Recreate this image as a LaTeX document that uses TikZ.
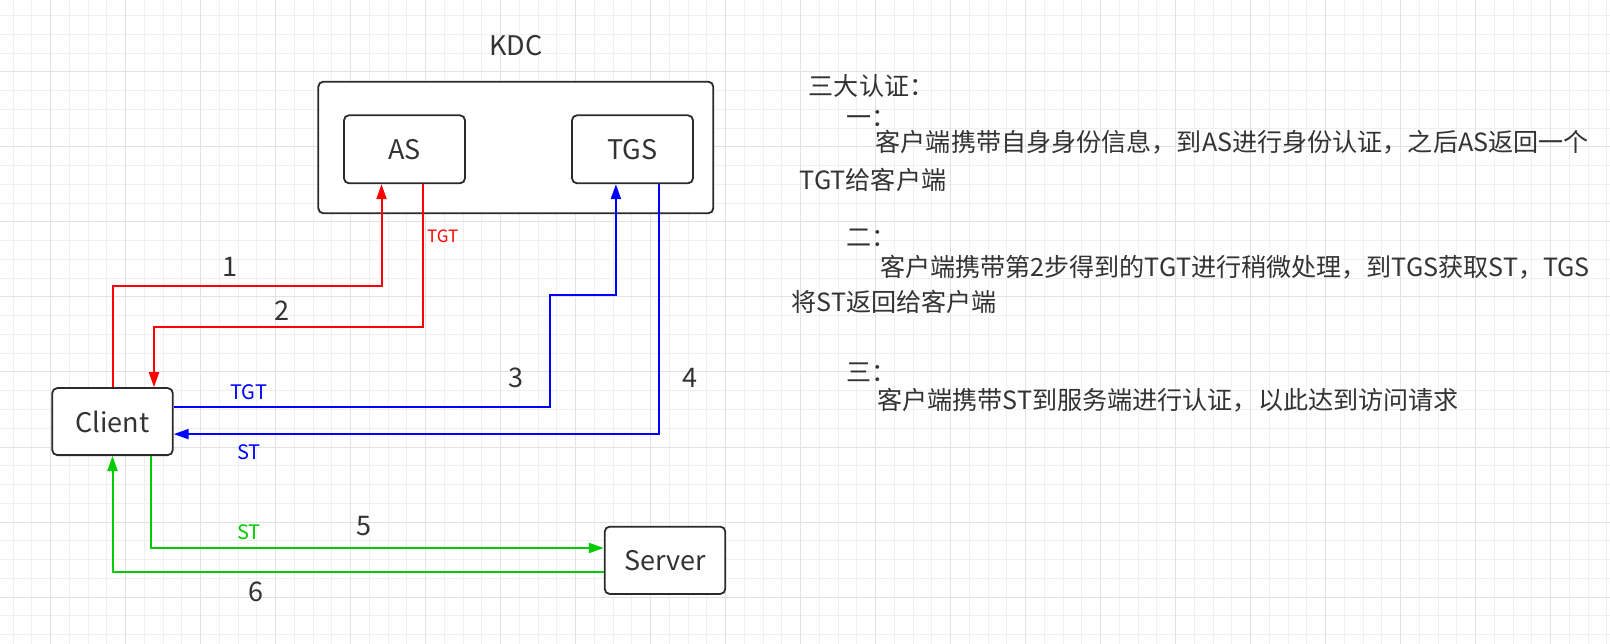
\documentclass[tikz,border=0pt]{standalone}
\usepackage{fontspec}
\setmainfont{Noto Sans CJK SC}
\usetikzlibrary{arrows.meta}
\definecolor{txt}{HTML}{333333}
\definecolor{bord}{HTML}{2B2B2B}
\definecolor{gmin}{HTML}{F0F0F0}
\definecolor{gmaj}{HTML}{E2E2E2}
\definecolor{cred}{HTML}{FF0000}
\definecolor{cblue}{HTML}{0000FF}
\definecolor{cgreen}{HTML}{00CC00}
\begin{document}
\begin{tikzpicture}[x=1pt,y=-1pt,
  box/.style={draw=bord, line width=1.8pt, rounded corners=5pt, fill=white, text=txt,
    font=\fontsize{27}{32}\selectfont, inner sep=0pt},
  conn/.style={line width=2pt, -{Triangle[length=15pt,width=10pt]}},
  rconn/.style={conn, draw=cred},
  bconn/.style={conn, draw=cblue},
  gconn/.style={conn, draw=cgreen},
  lbl/.style={text=txt, font=\fontsize{27}{32}\selectfont, inner sep=0pt},
  small/.style={font=\fontsize{20}{24}\selectfont, inner sep=0pt},
  tiny/.style={font=\fontsize{17}{20}\selectfont, inner sep=0pt},
  body/.style={text=txt, font=\fontsize{25.1}{30}\selectfont, inner sep=0pt, anchor=base west},
  gridmin/.style={draw=gmin, line width=1pt},
  gridmaj/.style={draw=gmaj, line width=1pt}
]
\useasboundingbox (0,0) rectangle (1610,644);
\fill[white] (0,0) rectangle (1610,644);
% grid
\foreach \k in {0,...,85} {
  \draw[gridmin] ({13+18.75*\k},0) -- ({13+18.75*\k},644);
}
\foreach \k in {0,...,34} {
  \draw[gridmin] (0,{15.75+18.75*\k}) -- (1610,{15.75+18.75*\k});
}
\foreach \k in {0,...,21} {
  \draw[gridmaj] ({50.5+75*\k},0) -- ({50.5+75*\k},644);
}
\foreach \k in {0,...,8} {
  \draw[gridmaj] (0,{72+75*\k}) -- (1610,{72+75*\k});
}

% boxes
\node[box, minimum width=395pt, minimum height=131.6pt] (KDC) at (515.8,147.5) {};
\node[lbl] (kdclbl) at (516,46) {KDC};
\node[box, minimum width=121pt, minimum height=68pt] (AS) at (404.5,149.3) {AS};
\node[box, minimum width=121pt, minimum height=68pt] (TGS) at (632.5,149.3) {TGS};
\node[box, minimum width=120.5pt, minimum height=67pt] (Client) at (112.5,421.6) {Client};
\node[box, minimum width=120.6pt, minimum height=67.3pt] (Server) at (665,560.3) {Server};

% coordinates of bends
\coordinate (y1) at (0,285.7);
\coordinate (y2) at (0,327.3);
\coordinate (y3) at (0,295.3);
\coordinate (x3) at (550.3,0);

% connectors
\draw[rconn] (Client.north) -- (Client.north |- y1) -| ([xshift=-23pt]AS.south);
\draw[rconn] ([xshift=18pt]AS.south) |- ([xshift=41.5pt]Client.north |- y2) -- ([xshift=41.5pt]Client.north);
\draw[bconn] ([yshift=15pt]Client.east) -| (x3 |- y3) -| ([xshift=-16.6pt]TGS.south);
\draw[bconn] ([xshift=26.2pt]TGS.south) |- ([yshift=-12.5pt]Client.east);
\draw[gconn] ([xshift=38.7pt]Client.south) |- ([yshift=12.3pt]Server.west);
\draw[gconn] ([yshift=-11.4pt]Server.west) -| (Client.south);

% labels
\node[lbl] (n1) at (229.7,267) {1};
\node[lbl] (n2) at (282,311) {2};
\node[lbl] (n3) at (515.8,378) {3};
\node[lbl] (n4) at (689.6,378) {4};
\node[lbl] (n5) at (363.5,526) {5};
\node[lbl] (n6) at (256,592) {6};
\node[tiny, text=cred] (ltgt1) at (442.7,236.5) {TGT};
\node[small, text=cblue] (ltgt2) at (248.6,392) {TGT};
\node[small, text=cblue] (lst1) at (249,452.5) {ST};
\node[small, text=cgreen] (lst2) at (249,531.7) {ST};

% text block
\node[body] (t0) at (808.6,95.5) {三大认证：};
\node[body] (t1) at (846.6,126.2) {一：};
\node[body] (t2) at (875.5,151.2) {客户端携带自身身份信息，到AS进行身份认证，之后AS返回一个};
\node[body] (t3) at (799.5,189.5) {TGT给客户端};
\node[body] (t4) at (846.6,246.2) {二：};
\node[body] (t5) at (879.8,276.2) {客户端携带第2步得到的TGT进行稍微处理，到TGS获取ST，TGS};
\node[body] (t6) at (791.4,311.2) {将ST返回给客户端};
\node[body] (t7) at (846.6,381.2) {三：};
\node[body] (t8) at (877,409.5) {客户端携带ST到服务端进行认证，以此达到访问请求};
\end{tikzpicture}
\end{document}
